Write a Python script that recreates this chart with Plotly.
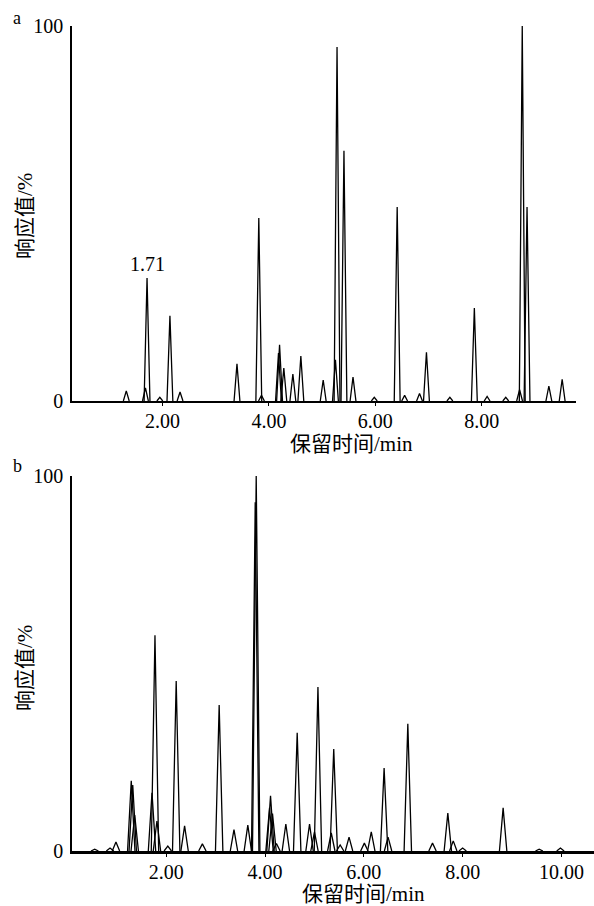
import plotly.graph_objects as go

W, H = 594, 906

# ---- data: panel a (retention time in min, relative response %) ----
a_times = [1.32, 1.68, 1.71, 1.95, 2.14, 2.33, 3.40, 3.81, 3.86, 4.18, 4.20, 4.28,
           4.45, 4.60, 5.02, 5.25, 5.28, 5.41, 5.58, 5.98, 6.41, 6.55, 6.83, 6.96,
           7.40, 7.86, 8.10, 8.45, 8.71, 8.76, 8.85, 9.26, 9.51]
a_heights = [2.7, 3.5, 32.8, 1.0, 22.7, 2.4, 9.9, 48.8, 1.5, 12.8, 15.0, 8.8,
             7.2, 12.0, 5.6, 11.0, 94.4, 66.7, 6.4, 1.0, 51.7, 1.5, 2.0, 13.0,
             1.0, 24.8, 1.2, 1.0, 3.0, 100.0, 51.7, 4.0, 5.8]

# ---- data: panel b ----
b_times = [0.55, 0.86, 0.98, 1.29, 1.32, 1.36, 1.71, 1.77, 1.81, 2.03, 2.20, 2.37,
           2.73, 3.07, 3.37, 3.65, 3.80, 3.82, 4.09, 4.11, 4.15, 4.23, 4.42, 4.65,
           4.90, 5.00, 5.07, 5.34, 5.39, 5.52, 5.70, 6.01, 6.15, 6.41, 6.49, 6.89,
           7.39, 7.70, 7.81, 8.00, 8.82, 9.55, 9.98]
b_heights = [0.5, 0.8, 2.4, 18.7, 17.6, 9.6, 15.5, 57.5, 8.0, 1.3, 45.3, 6.7,
             1.9, 38.9, 5.7, 6.9, 93.0, 100.0, 11.5, 14.7, 10.0, 2.0, 7.2, 31.5,
             7.2, 5.1, 43.7, 4.8, 27.2, 1.6, 3.7, 2.1, 5.1, 22.1, 3.7, 33.9,
             2.1, 10.1, 2.7, 0.8, 11.5, 0.5, 0.8]

a_ticks = [2, 4, 6, 8]
a_ticktext = ["2.00", "4.00", "6.00", "8.00"]
b_ticks = [2, 4, 6, 8, 10]
b_ticktext = ["2.00", "4.00", "6.00", "8.00", "10.00"]

x_title = "保留时间/min"
y_title = "响应值/%"
peak_label = "1.71"

FONT = "Liberation Serif, Times New Roman, Noto Sans CJK SC, serif"


def peaks_path(times, heights, half_width):
    xs, ys = [], []
    for t, h in zip(times, heights):
        xs += [t - half_width, t, t + half_width, None]
        ys += [0, h, 0, None]
    return xs, ys


def px_x(p):
    return p / W


def px_y(p):
    return 1 - p / H


fig = go.Figure()

xa, ya = peaks_path(a_times, a_heights, 0.055)
fig.add_trace(go.Scatter(x=xa, y=ya, mode="lines", line=dict(color="black", width=1.3),
                         xaxis="x", yaxis="y", showlegend=False, hoverinfo="skip"))
xb, yb = peaks_path(b_times, b_heights, 0.075)
fig.add_trace(go.Scatter(x=xb, y=yb, mode="lines", line=dict(color="black", width=1.3),
                         xaxis="x2", yaxis="y2", showlegend=False, hoverinfo="skip"))

axis_common = dict(showgrid=False, zeroline=False, showline=True, linecolor="black",
                   automargin=False,
                   tickfont=dict(family=FONT, size=20, color="black"), tickcolor="black")

fig.update_layout(
    template="none",
    width=W, height=H, margin=dict(l=0, r=0, t=0, b=0, pad=0), autosize=False,
    paper_bgcolor="white", plot_bgcolor="white",
    font=dict(family=FONT, color="black"),
    xaxis=dict(domain=[px_x(72), px_x(576)], range=[0.30, 9.77], anchor="y",
               tickvals=a_ticks, ticktext=a_ticktext, ticks="outside", ticklen=3,
               ticklabelstandoff=-2, linewidth=2, **axis_common),
    yaxis=dict(domain=[px_y(401), px_y(26)], range=[0, 100], anchor="x",
               tickvals=[0, 100], ticktext=["0", "100"], ticks="inside", ticklen=7,
               ticklabelstandoff=3, linewidth=1.5, **axis_common),
    xaxis2=dict(domain=[px_x(72), px_x(594)], range=[0.09, 10.66], anchor="y2",
                tickvals=b_ticks, ticktext=b_ticktext, ticks="outside", ticklen=3,
                ticklabelstandoff=-2, linewidth=3, **axis_common),
    yaxis2=dict(domain=[px_y(851), px_y(476)], range=[0, 100], anchor="x2",
                tickvals=[0, 100], ticktext=["0", "100"], ticks="inside", ticklen=7,
                ticklabelstandoff=3, linewidth=1.5, **axis_common),
)


def note(text, x, y, size, angle=0):
    return dict(text=text, x=px_x(x), y=px_y(y), xref="paper", yref="paper",
                xanchor="center", yanchor="middle", showarrow=False,
                textangle=angle, font=dict(size=size, family=FONT, color="black"))


ann = [
    note("a", 17, 18, 18),
    note("b", 17, 466, 18),
    note(x_title, 351, 444, 21),
    note(x_title, 363, 894, 21),
    note(y_title, 25, 216, 21, -90),
    note(y_title, 25, 668, 21, -90),
    dict(text=peak_label, x=1.71, y=32.8, xref="x", yref="y", yshift=14,
         xanchor="center", yanchor="middle",
         showarrow=False, font=dict(size=20, family=FONT, color="black")),
]

fig.update_layout(annotations=ann)
fig.write_html("out.html", config={"displayModeBar": False},
               post_script="document.body.style.margin='0';document.body.style.padding='0';")
